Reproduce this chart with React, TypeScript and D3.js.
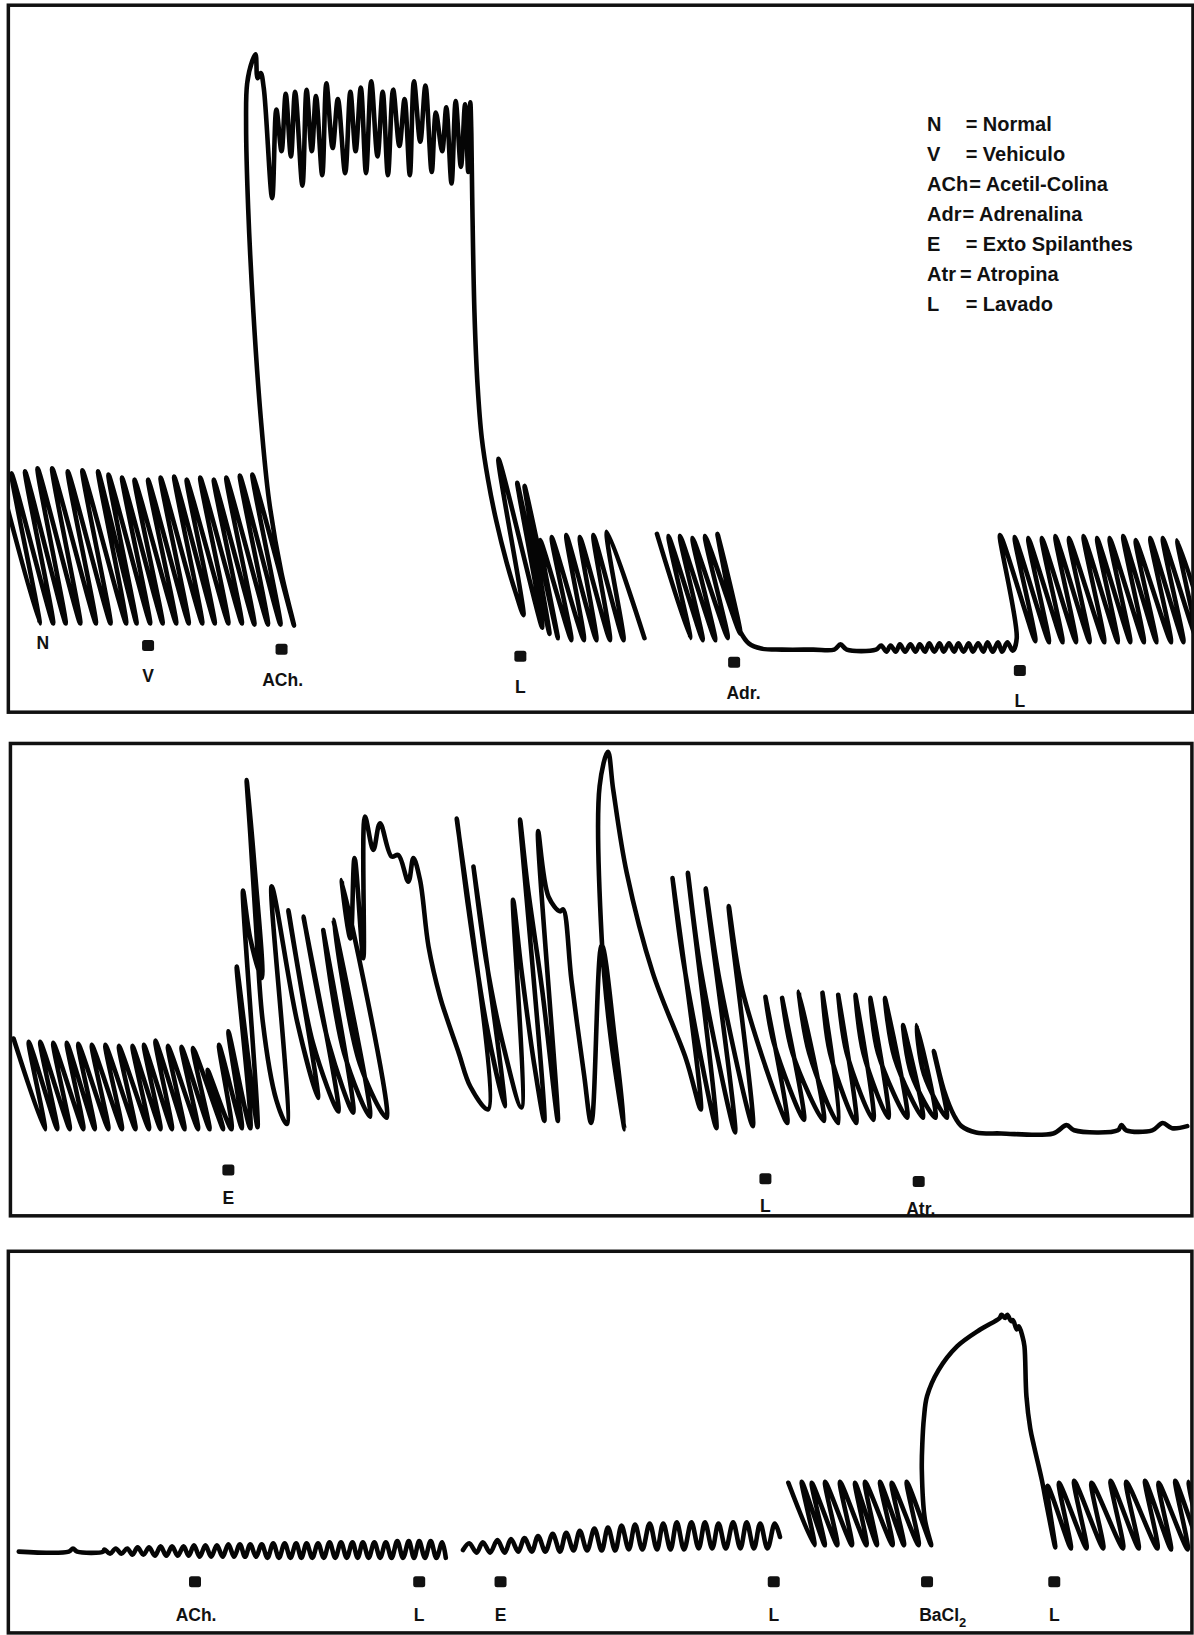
import React from 'react';
import * as d3 from 'd3';

type Pt = [number, number];

// page / print geometry (print read at 1145 x 1568, page drawn at 1194 x 1635)
const W = 1194;
const H = 1635;
const KX = 1194 / 1145;
const KY = 1635 / 1568;

// ---- Panel 1 : N, V, ACh, L, Adr, L  (time from panel start, tension above panel floor) ----
const p1TraceA: Pt[] = [
  [-10, 231], [30, 85], [3, 229], [43, 85], [16, 231], [55, 85], [28, 234], [69, 85], [42, 234], [84, 85],
  [57, 231], [98, 85], [71, 232], [113, 85], [86, 231], [123, 85], [96, 228], [136, 85], [109, 225], [148, 85],
  [121, 223], [161, 85], [134, 223], [173, 85], [146, 225], [186, 85], [159, 226], [198, 85], [171, 223], [211, 85],
  [184, 225], [224, 85], [197, 223], [236, 84], [209, 225], [249, 84], [222, 227], [261, 84], [234, 228], [274, 83],
  // ACh contracture
  [262, 133], [250, 203], [242, 283], [235, 383], [230, 483], [228, 563], [229, 603], [234, 625], [237, 631],
  [239, 608], [242, 613], [245, 598], [253, 493], [257, 578], [262, 538], [266, 593], [271, 533], [275, 595],
  [282, 505], [286, 597], [291, 538], [295, 591], [301, 515], [305, 603], [311, 541], [316, 588], [323, 517],
  [328, 595], [333, 538], [338, 599], [343, 517], [348, 605], [354, 533], [359, 595], [364, 515], [369, 597],
  [375, 543], [380, 588], [385, 515], [389, 605], [395, 547], [400, 601], [406, 518], [410, 575], [416, 538],
  [420, 580], [425, 507], [429, 586], [434, 523], [438, 583], [441, 518], [443, 585], [444, 555],
  // wash-out
  [445, 483], [447, 383], [450, 313], [454, 263], [460, 223], [468, 183], [478, 143], [487, 113], [494, 93],
  [470, 243], [512, 81], [488, 220], [519, 75], [495, 217], [527, 71], [510, 165], [540, 69], [521, 168],
  [552, 69], [535, 170], [564, 69], [548, 168], [577, 69], [561, 170], [590, 69], [574, 173], [610, 71],
];

const p1TraceB: Pt[] = [
  [622, 171], [654, 71], [633, 169], [666, 69], [644, 169], [678, 69], [656, 167], [690, 71], [668, 169], [702, 75],
  [680, 171], [687, 133], [694, 98], [702, 77], [710, 66], [722, 61], [742, 60], [772, 60], [792, 60], [798, 65],
  [804, 60], [832, 60],
  [837, 64], [842, 58], [846, 64], [851, 58], [855, 65], [860, 58], [865, 65], [870, 58], [874, 65], [879, 58],
  [883, 66], [888, 58], [893, 66], [897, 58], [902, 66], [907, 58], [911, 66], [916, 58], [921, 66], [925, 58],
  [930, 66], [935, 58], [939, 67], [944, 58], [949, 67], [953, 58], [958, 67], [963, 59],
  [967, 71], [951, 170], [985, 68], [965, 168], [998, 67], [978, 167], [1011, 67], [991, 167], [1024, 67],
  [1004, 169], [1037, 67], [1017, 167], [1051, 67], [1031, 169], [1064, 67], [1044, 167], [1076, 67], [1056, 167],
  [1089, 67], [1069, 169], [1101, 67], [1081, 165], [1115, 67], [1095, 167], [1127, 67], [1107, 167], [1140, 69],
  [1121, 165], [1152, 69],
];

// ---- Panel 2 : E, L, Atr ----
const p2Trace: Pt[] = [
  [3, 170], [33, 83], [17.5, 167], [45, 83], [28.5, 167], [57, 83], [41, 166], [70, 83], [54, 166], [81, 83],
  [65, 165], [94, 83], [78, 164], [107, 83], [91, 164], [120, 83], [104, 163], [133, 83], [117, 163], [144, 83],
  [128, 164], [155, 83], [139, 168], [167, 83], [151, 163], [180, 83], [164, 162], [191, 83], [175, 161], [204, 83],
  [189, 140], [212, 83], [200, 164], [222, 84], [209, 177], [230, 84], [217, 239], [237, 85], [223, 312], [230, 266],
  [241, 228], [234, 336], [226.5, 418],
  [230, 366], [235, 286], [242, 186], [255, 111], [265, 88],
  [250.5, 316], [275, 186], [295, 113],
  [266.5, 293], [290, 166], [314.5, 100],
  [281, 287], [305, 166], [328.8, 99],
  [300, 274], [320, 156], [344.8, 95],
  [309.7, 284], [335, 146], [360.8, 94],
  [317.7, 322], [326, 266], [330, 343], [338.4, 247], [340, 383],
  [348, 351], [354.4, 376.5], [365.6, 344.5], [372, 346], [381.6, 320.5], [386.4, 343],
  [392.8, 322], [401, 258], [412, 210], [419, 188], [430, 156], [441, 124],
  [458, 102], [428, 381], [439, 296], [456, 186], [474, 105], [444, 335], [456, 246], [472, 166], [490, 104],
  [482, 303], [490, 236], [502, 147], [512, 91], [488.7, 380], [496, 316], [510, 216], [525, 91], [506, 369],
  [516, 306], [527, 292], [530, 294], [538, 226], [550, 136], [557, 89],
  [567, 260], [580, 166], [589, 83], [575, 176], [567, 266], [565, 412], [573, 445],
  [578, 409], [591, 329], [616, 233], [648, 150], [662, 102],
  [634.9, 324], [645, 246], [677, 84], [649.6, 329], [662, 236], [695, 80], [666.7, 314], [680, 226], [712, 86],
  [688.8, 297], [702, 216], [745, 89], [724, 210], [732, 166], [761, 92], [740, 209], [750, 156], [780, 91],
  [756, 215], [766, 156], [794, 89], [778.7, 214], [786, 156], [811, 89], [793.8, 212], [802, 156], [827.5, 92],
  [810.3, 212], [818, 156], [842, 94], [824.6, 209], [832, 156], [860, 94], [838.6, 209], [848, 151], [875, 94],
  [856, 183], [864, 136], [887, 94], [869, 183], [876, 136], [898, 94], [885.5, 158], [895, 121], [905, 96],
  [912, 86], [926, 80], [950, 79], [1000, 79], [1012.8, 87], [1020, 82], [1062, 82], [1065.4, 87], [1070, 82],
  [1095, 82], [1105, 89], [1114, 84], [1128.5, 86],
];

// ---- Panel 3 : ACh, L, E, L, BaCl2, L ----
const p3TraceA: Pt[] = [
  [10, 78], [58, 78], [62, 81], [66, 78], [91, 78],
  [92, 80], [97.5, 76], [103, 81], [108.5, 76], [114, 81], [119, 75], [124, 82], [129.5, 75], [135, 82], [140.5, 74],
  [146, 83], [151.5, 74], [157, 83], [162.5, 74], [168, 83], [173, 74], [178, 84], [183.5, 73], [189, 84],
  [194.5, 73], [200, 84], [205.5, 73], [211, 85], [216.5, 73], [222, 85], [227, 73], [232, 85], [237.5, 73],
  [243, 85], [248.5, 72], [254, 86], [259.5, 72], [265, 86], [270.5, 72], [276, 86], [281, 72], [286, 86],
  [291.5, 72], [297, 86], [302.5, 72], [308, 87], [313.5, 72], [319, 87], [324.5, 72], [330, 87], [335, 72],
  [340, 87], [345.5, 72], [351, 87], [356.5, 72], [362, 87], [367.5, 72], [373, 88], [378.5, 72], [384, 88],
  [389, 72], [394, 88], [399.5, 72], [405, 88], [410.5, 72], [416, 87], [419.5, 72],
];

const p3TraceB: Pt[] = [
  [436, 79.5], [442, 86], [449, 77], [455, 87], [462, 77], [469, 89], [476, 77], [482, 90], [489, 78], [495, 91],
  [502, 78], [508, 93], [515, 78], [522, 95], [529, 78], [535, 96], [542, 79], [548, 98], [555, 79], [562, 100],
  [569, 79], [575, 101], [582, 79], [588, 103], [595, 80], [601, 104], [608, 80], [615, 105], [622, 80], [628, 105],
  [635, 80], [641, 106], [648, 80], [655, 106], [662, 81], [668, 106], [675, 81], [681, 105], [688, 81], [695, 106],
  [702, 81], [708, 106], [715, 81], [721, 105], [728, 81], [735, 105], [740, 92],
];

const p3TraceC: Pt[] = [
  [748, 144], [773, 84], [760.8, 145], [783, 84], [770.4, 144], [795, 84], [783.2, 145], [809, 84], [797.5, 145],
  [823, 84], [811.9, 144], [833, 84], [821.5, 145], [848, 84], [835.9, 145], [859, 84], [847.1, 144], [873, 84],
  [861.5, 145], [885, 84],
  // BaCl2 contracture
  [879, 108.4], [876, 156], [876.5, 182], [878, 206], [881, 227], [892, 252], [910, 275], [932, 291], [950.6, 302],
  [952.4, 305], [956, 302], [958, 305], [961.6, 299], [963.4, 300], [967, 291], [969, 294], [972.6, 284],
  [974.4, 275], [976.3, 227], [980, 196], [983.6, 179], [991, 147], [996, 121], [1004, 82],
  [996.5, 141], [1019, 81], [1007.5, 144], [1034, 81], [1022, 146], [1050, 81], [1038.7, 144], [1069, 81],
  [1057, 146], [1084, 81], [1072, 145], [1102, 81], [1090, 146], [1115, 80], [1103, 144], [1131, 80], [1119, 146],
  [1144, 80], [1132, 145], [1157, 80],
];

// event signals (time from panel start)
const p1Events = [
  { label: 'N', t: 33, mark: false },
  { label: 'V', t: 134, mark: true },
  { label: 'ACh.', t: 262, mark: true },
  { label: 'L', t: 491, mark: true },
  { label: 'Adr.', t: 696, mark: true },
  { label: 'L', t: 970, mark: true },
];
const p2Events = [
  { label: 'E', t: 209, mark: true },
  { label: 'L', t: 724, mark: true },
  { label: 'Atr.', t: 871, mark: true },
];
const p3Events = [
  { label: 'ACh.', t: 179, mark: true },
  { label: 'L', t: 394, mark: true },
  { label: 'E', t: 472, mark: true },
  { label: 'L', t: 734, mark: true },
  { label: 'BaCl2', t: 881, mark: true },
  { label: 'L', t: 1003, mark: true },
];

const legendKeys = ['N', 'V', 'ACh', 'Adr', 'E', 'Atr', 'L'];
const legendNames = ['Normal', 'Vehiculo', 'Acetil-Colina', 'Adrenalina', 'Exto Spilanthes', 'Atropina', 'Lavado'];

const FONT = '"Liberation Sans", Arial, sans-serif';

// frames measured on the print (1145 wide)
const frames = [
  { left: 8, right: 1144, top: 5, bottom: 683, sigY: 619, sigSlope: 0.0287, sigX0: 142, gap: 29 },
  { left: 10, right: 1143, top: 713, bottom: 1166, sigY: 1122, sigSlope: 0.0166, sigX0: 219, gap: 26 },
  { left: 8, right: 1143, top: 1200, bottom: 1566, sigY: 1517, sigSlope: 0, sigX0: 0, gap: 31 },
];

const labelShift: Record<string, number> = { 'ACh.': 1, 'Adr.': 9, 'Atr.': 2, BaCl2: 15 };

function Panel({ idx, traces, events }: { idx: number; traces: Pt[][]; events: { label: string; t: number; mark: boolean }[] }) {
  const f = frames[idx];
  const x = d3.scaleLinear().domain([0, f.right - f.left]).range([f.left * KX, f.right * KX]);
  const y = d3.scaleLinear().domain([0, f.bottom - f.top]).range([f.bottom * KY, f.top * KY]);
  const line = d3.line<Pt>()
    .x(d => x(d[0]))
    .y(d => y(d[1]))
    .curve(d3.curveCatmullRom.alpha(0.5));

  const sig = (px: number) => (f.sigY + f.sigSlope * (px / KX - f.sigX0)) * KY;

  return (
    <g>
      <clipPath id={`clip${idx}`}>
        <rect x={x(0)} y={y(f.bottom - f.top)} width={x(f.right - f.left) - x(0)} height={y(0) - y(f.bottom - f.top)} />
      </clipPath>
      <g clipPath={`url(#clip${idx})`}>
        {traces.map((tr, i) => (
          <path key={i} d={line(tr) || ''} fill="none" stroke="#050505" strokeWidth={4.6}
            strokeLinejoin="round" strokeLinecap="round" />
        ))}
      </g>
      <rect x={x(0)} y={y(f.bottom - f.top)} width={x(f.right - f.left) - x(0)} height={y(0) - y(f.bottom - f.top)}
        fill="none" stroke="#111" strokeWidth={3.5} />
      {events.map((e, i) => {
        const mx = x(e.t);
        const my = sig(mx);
        const lx = mx + (labelShift[e.label] || 0) * KX;
        const ly = (e.mark ? my + f.gap * KY : my) + 6.5;
        return (
          <g key={i}>
            {e.mark && <rect x={mx - 6} y={my - 5.5} width={12} height={11} rx={2.5} fill="#111" />}
            <text x={lx} y={ly} textAnchor="middle" fontFamily={FONT} fontWeight="bold" fontSize={17.5} fill="#111">
              {e.label === 'BaCl2' ? (<>BaCl<tspan fontSize={13} dy={6}>2</tspan></>) : e.label}
            </text>
          </g>
        );
      })}
    </g>
  );
}

export default function App() {
  const legendX = 889 * KX;
  const eqX = 926 * KX;
  const legendY0 = 126 * KY;
  const rowH = 28.7 * KY;
  return (
    <svg width={W} height={H} viewBox={`0 0 ${W} ${H}`} style={{ position: 'absolute', left: 0, top: 0, background: '#fff' }}>
      <rect width={W} height={H} fill="#fff" />
      <Panel idx={0} traces={[p1TraceA, p1TraceB]} events={p1Events} />
      <Panel idx={1} traces={[p2Trace]} events={p2Events} />
      <Panel idx={2} traces={[p3TraceA, p3TraceB, p3TraceC]} events={p3Events} />
      <g fontFamily={FONT} fontWeight="bold" fontSize={20} fill="#111">
        {legendKeys.map((k, i) => (
          <text key={k} x={legendX} y={legendY0 + i * rowH}>
            {k}
            {k.length > 1
              ? <tspan dx={k === 'Atr' ? 4 : 1}>{`= ${legendNames[i]}`}</tspan>
              : <tspan x={eqX}>{`= ${legendNames[i]}`}</tspan>}
          </text>
        ))}
      </g>
    </svg>
  );
}
